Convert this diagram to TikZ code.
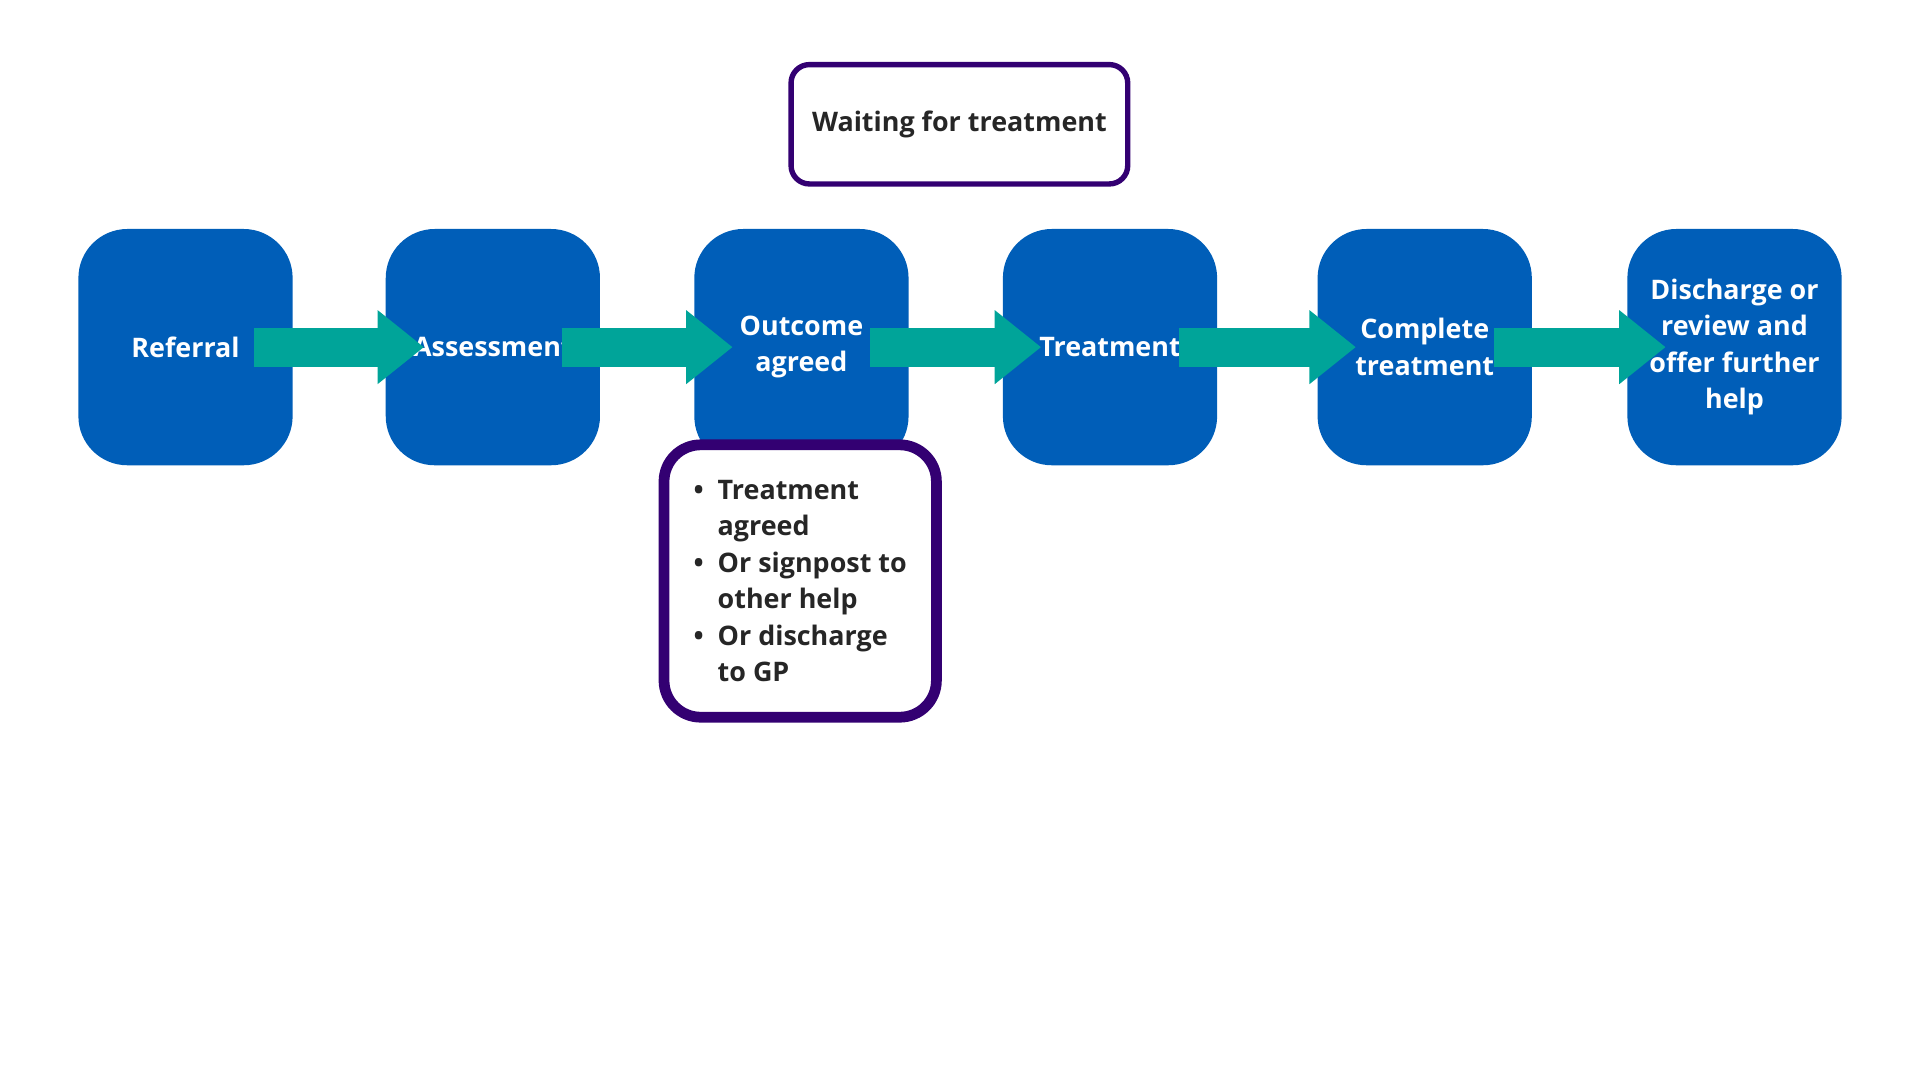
\documentclass[tikz,border=0pt]{standalone}
\usepackage{fontspec}
\setmainfont{Open Sans}
\usetikzlibrary{positioning,arrows.meta}
\definecolor{nhsblue}{HTML}{005EB8}
\definecolor{nhsteal}{HTML}{00A499}
\definecolor{nhspurple}{HTML}{330072}
\tikzset{
  stage/.style={fill=nhsblue, rounded corners=0.8cm, minimum width=3.5cm, minimum height=3.86cm,
    text=white, align=center, font=\fontsize{12.5}{17}\selectfont\bfseries, inner sep=2pt},
  flow/.style={draw=nhsteal, line width=0.64cm, -{Triangle[length=0.76cm,width=1.16cm]}},
}
\begin{document}
\begin{tikzpicture}[x=0.02cm,y=0.02cm]

    % ---------------------
    % Proper size --- Bounding box
    \useasboundingbox (0,0) rectangle (1568,882);

    % ---------------------
    % Stages
    \node[stage] (Ref) at (151.5,598.5) {Referral};
    \node[stage] (Ass) at (402.5,598.5) {Assessment};
    \node[stage] (Out) at (654.5,598.5) {Outcome\\agreed};
    \node[stage] (Tre) at (906.5,598.5) {Treatment};
    \node[stage] (Com) at (1163.5,598.5) {Complete\\treatment};
    \node[stage] (Dis) at (1416.5,598.5) {Discharge or\\review and\\offer further\\help};

    % ---------------------
    % Notes
    \node[draw=nhspurple, line width=2.5pt, fill=white, rounded corners=0.3cm,
      minimum width=5.5cm, minimum height=1.95cm, font=\fontsize{12.5}{17}\selectfont\bfseries,
      text=black!85] (Wait) at (783.5,780.5) {Waiting for treatment};
    \node[draw=nhspurple, line width=5pt, fill=white, rounded corners=0.6cm,
      minimum width=4.45cm, minimum height=4.45cm, font=\fontsize{12.5}{17}\selectfont\bfseries,
      text=black!85, align=left] (Opt) at (653.5,407.5)
      {\textbullet\ \ Treatment\\\phantom{\textbullet\ \ }agreed\\
       \textbullet\ \ Or signpost to\\\phantom{\textbullet\ \ }other help\\
       \textbullet\ \ Or discharge\\\phantom{\textbullet\ \ }to GP};

    % ---------------------
    % Flow arrows
    \draw[flow] ([xshift=-18]Ref.east) -- ([xshift=18]Ass.west);
    \draw[flow] ([xshift=-18]Ass.east) -- ([xshift=18]Out.west);
    \draw[flow] ([xshift=-18]Out.east) -- ([xshift=18]Tre.west);
    \draw[flow] ([xshift=-18]Tre.east) -- ([xshift=18]Com.west);
    \draw[flow] ([xshift=-18]Com.east) -- ([xshift=18]Dis.west);

\end{tikzpicture}
\end{document}
